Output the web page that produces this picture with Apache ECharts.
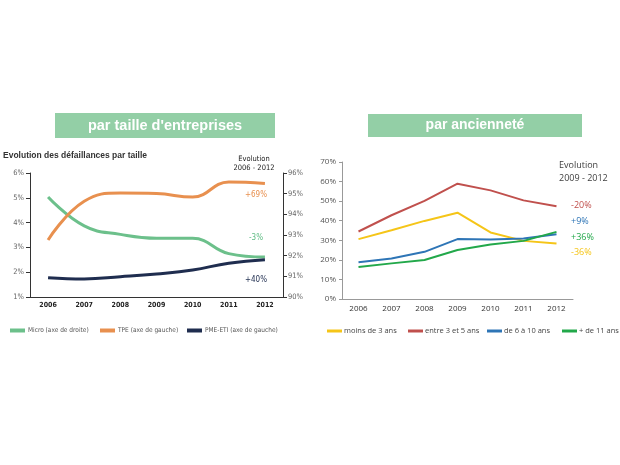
<!DOCTYPE html>
<html><head><meta charset="utf-8">
<script src="https://cdn.jsdelivr.net/npm/echarts@6/dist/echarts.min.js"></script>
<style>html,body{margin:0;padding:0;background:#fff}#c{width:620px;height:465px}</style>
</head><body><div id="c"></div>
<script>
// Left chart: défaillances par taille
const yearsL = ['2006','2007','2008','2009','2010','2011','2012'];
const micro = [94.84, 93.44, 93.03, 92.84, 92.84, 92.10, 91.93];   // axe de droite
const tpe   = [3.30, 4.86, 5.19, 5.17, 5.03, 5.64, 5.58];          // axe de gauche
const pme   = [1.78, 1.73, 1.82, 1.93, 2.09, 2.36, 2.50];          // axe de gauche
const leftTicks = ['1%','2%','3%','4%','5%','6%'];
// Right chart: par ancienneté
const yearsR = ['2006','2007','2008','2009','2010','2011','2012'];
const moins3 = [30.6, 35.1, 39.9, 44.1, 34.0, 29.7, 28.4];
const entre3_5 = [34.5, 42.8, 50.1, 58.9, 55.5, 50.4, 47.4];
const de6_10 = [18.8, 20.7, 24.1, 30.6, 30.4, 30.9, 33.1];
const plus11 = [16.3, 18.2, 19.9, 25.0, 27.8, 29.7, 34.3];

const NARROW = '"DejaVu Sans Condensed","Liberation Sans Narrow","Liberation Sans",sans-serif';
const SANS = '"Open Sans","Liberation Sans",sans-serif';
const GREEN_HDR = '#93cfa6';

const chart = echarts.init(document.getElementById('c'), null, {renderer:'canvas'});
const txt = (x,y,t,color,size,font,align,weight) => ({type:'text', x:x, y:y,
  style:{text:t, fill:color, font:(weight||'normal')+' '+size+'px '+font, textAlign:align||'left', textVerticalAlign:'middle'}});
const legL = (left, name) => ({left:left, top:322, itemWidth:15, itemHeight:4, icon:'rect', itemGap:0,
  textStyle:{fontSize:6.5, color:'#555', fontFamily:NARROW, padding:[0,0,0,-2]}, data:[name]});
const legR = (left, name) => ({left:left, top:322, itemWidth:15, itemHeight:3, icon:'rect', itemGap:0,
  textStyle:{fontSize:7.5, color:'#444', fontFamily:SANS, padding:[0,0,0,-3]}, data:[name]});

chart.setOption({
  animation:false,
  backgroundColor:'#fff',
  graphic:[
    {type:'rect', shape:{x:55,y:113,width:220,height:25}, style:{fill:GREEN_HDR}},
    {type:'rect', shape:{x:368,y:114,width:214,height:23}, style:{fill:GREEN_HDR}},
    txt(165,125.5,"par taille d'entreprises",'#fff',14.5,'"Liberation Sans",Arial,sans-serif','center','bold'),
    txt(475,125.5,'par ancienneté','#fff',14,'"Liberation Sans",Arial,sans-serif','center','bold'),
    txt(3,156,'Evolution des défaillances par taille','#333',8.5,'"Liberation Sans",Arial,sans-serif','left','bold'),
    txt(254,159,'Evolution','#222',7.5,NARROW,'center'),
    txt(254,168,'2006 - 2012','#222',7.5,NARROW,'center'),
    txt(256,195,'+69%','#e8904f',8,NARROW,'center'),
    txt(256,238,'-3%','#5dbb82',8,NARROW,'center'),
    txt(256,280,'+40%','#1f2d4f',8,NARROW,'center'),
    txt(559,165,'Evolution','#404040',9,SANS,'left'),
    txt(559,178,'2009 - 2012','#404040',9,SANS,'left'),
    txt(571,205,'-20%','#c0504d',9,SANS,'left'),
    txt(571,221,'+9%','#2e75b6',9,SANS,'left'),
    txt(571,237,'+36%','#22a84a',9,SANS,'left'),
    txt(571,252,'-36%','#f5c518',9,SANS,'left')
  ],
  legend:[
    legL(5,'Micro (axe de droite)'),
    legL(95,'TPE (axe de gauche)'),
    legL(182,'PME-ETI (axe de gauche)'),
    legR(322,'moins de 3 ans'),
    legR(403,'entre 3 et 5 ans'),
    legR(482,'de 6 à 10 ans'),
    legR(557,'+ de 11 ans')
  ],
  grid:[
    {left:30, top:173, width:253, height:124},
    {left:342, top:162, width:231, height:137}
  ],
  xAxis:[
    {type:'category', gridIndex:0, data:yearsL, boundaryGap:true,
     axisLine:{lineStyle:{color:'#333', width:1}}, axisTick:{alignWithLabel:false, length:4, lineStyle:{color:'#333'}},
     axisLabel:{fontSize:7, color:'#222', fontFamily:NARROW, fontWeight:'bold', margin:5}},
    {type:'category', gridIndex:1, data:yearsR, boundaryGap:true,
     axisLine:{lineStyle:{color:'#999'}}, axisTick:{length:3, lineStyle:{color:'#999'}},
     axisLabel:{fontSize:8, color:'#333', fontFamily:SANS, margin:6}}
  ],
  yAxis:[
    {type:'value', gridIndex:0, min:1, max:6, interval:1, position:'left',
     axisLine:{show:true, lineStyle:{color:'#333'}}, axisTick:{show:true, length:4, lineStyle:{color:'#333'}},
     splitLine:{show:false},
     axisLabel:{fontSize:7.5, color:'#666', fontFamily:NARROW, margin:6, formatter:(v)=>leftTicks[v-1]}},
    {type:'value', gridIndex:0, min:90, max:96, interval:1, position:'right',
     axisLine:{show:true, lineStyle:{color:'#333'}}, axisTick:{show:true, length:4, lineStyle:{color:'#333'}},
     splitLine:{show:false},
     axisLabel:{fontSize:7.5, color:'#666', fontFamily:NARROW, margin:5, formatter:'{value}%'}},
    {type:'value', gridIndex:1, min:0, max:70, interval:10,
     axisLine:{show:true, lineStyle:{color:'#999'}}, axisTick:{show:true, length:3, lineStyle:{color:'#999'}},
     splitLine:{show:false},
     axisLabel:{fontSize:8, color:'#555', fontFamily:SANS, margin:6, formatter:'{value}%'}}
  ],
  series:[
    {name:'Micro (axe de droite)', type:'line', xAxisIndex:0, yAxisIndex:1, data:micro, smooth:0.45, symbol:'none',
     lineStyle:{width:3, color:'#6cc08b'}, itemStyle:{color:'#6cc08b'}},
    {name:'TPE (axe de gauche)', type:'line', xAxisIndex:0, yAxisIndex:0, data:tpe, smooth:0.45, symbol:'none',
     lineStyle:{width:3, color:'#e8904f'}, itemStyle:{color:'#e8904f'}},
    {name:'PME-ETI (axe de gauche)', type:'line', xAxisIndex:0, yAxisIndex:0, data:pme, smooth:0.45, symbol:'none',
     lineStyle:{width:3, color:'#1f2d4f'}, itemStyle:{color:'#1f2d4f'}},
    {name:'moins de 3 ans', type:'line', xAxisIndex:1, yAxisIndex:2, data:moins3, symbol:'none',
     lineStyle:{width:2, color:'#f5c518'}, itemStyle:{color:'#f5c518'}},
    {name:'entre 3 et 5 ans', type:'line', xAxisIndex:1, yAxisIndex:2, data:entre3_5, symbol:'none',
     lineStyle:{width:2, color:'#c0504d'}, itemStyle:{color:'#c0504d'}},
    {name:'de 6 à 10 ans', type:'line', xAxisIndex:1, yAxisIndex:2, data:de6_10, symbol:'none',
     lineStyle:{width:2, color:'#2e75b6'}, itemStyle:{color:'#2e75b6'}},
    {name:'+ de 11 ans', type:'line', xAxisIndex:1, yAxisIndex:2, data:plus11, symbol:'none',
     lineStyle:{width:2, color:'#22a84a'}, itemStyle:{color:'#22a84a'}}
  ]
});
</script></body></html>
